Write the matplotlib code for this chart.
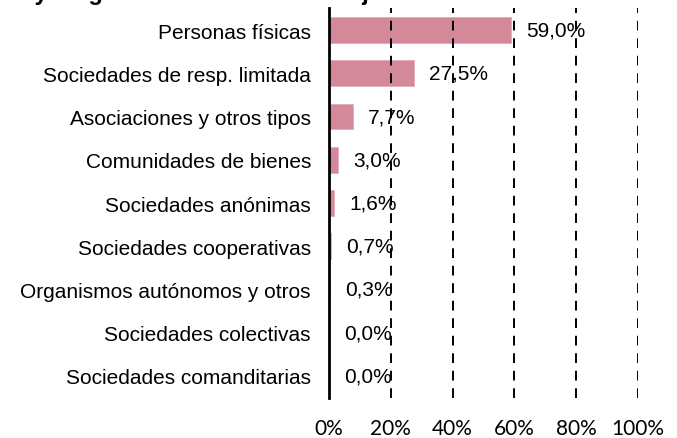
import matplotlib.pyplot as plt
import numpy as np

categories = ['Personas físicas', 'Sociedades de resp. limitada', 'Asociaciones y otros tipos',
              'Comunidades de bienes', 'Sociedades anónimas', 'Sociedades cooperativas',
              'Organismos autónomos y otros', 'Sociedades colectivas', 'Sociedades comanditarias']
values = [59.0, 27.5, 7.7, 3.0, 1.6, 0.7, 0.3, 0.0, 0.0]
xticks = [0, 20, 40, 60, 80, 100]
title = 'Hoy: según la forma de entidad jurídica'

fig = plt.figure(figsize=(6.77, 4.39), dpi=100)
ax = fig.add_axes([0.486, 0.092, 0.9424 - 0.486, 0.9786 - 0.092])

y = np.arange(len(categories))
ax.barh(y, values, height=0.6, color='#D4899A', edgecolor='#E3AAB7', linewidth=0.6)
for yi, v in zip(y, values):
    ax.annotate(f'{v:.1f}%'.replace('.', ','), (v, yi), xytext=(11, 0), textcoords='offset points',
                va='center', ha='left', fontsize=15, family='Liberation Sans')

ax.set_xlim(0, 100)
ax.set_ylim(len(categories) - 0.5, -0.5)
ax.set_yticks(y)
ax.set_yticklabels(categories, fontsize=15, family='Liberation Sans')
ax.set_xticks(xticks)
ax.set_xticklabels([f'{t}%' for t in xticks], fontsize=15, family='Lato')
ax.tick_params(axis='y', length=0, pad=13)
ax.tick_params(axis='x', length=0, pad=15)
for x in xticks[1:]:
    ax.axvline(x, color='black', linestyle=(0, (5, 4)), linewidth=1.4)
for s in ['top', 'right', 'bottom']:
    ax.spines[s].set_visible(False)
ax.spines['left'].set_linewidth(2)
ax.spines['left'].set_color('black')

# title is cut off at the top edge, as in the source picture
fig.text(0.005, 1.0, title, fontsize=17, fontweight='bold', va='baseline', ha='left',
         family='Liberation Sans')

fig.savefig('out.png', dpi=100)
